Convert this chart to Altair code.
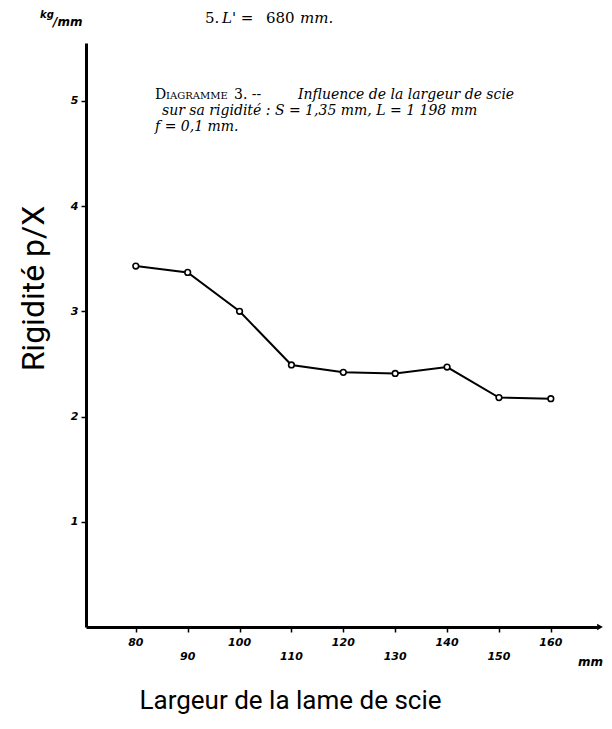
import altair as alt
import pandas as pd

# ---- data ----
largeur = [80, 90, 100, 110, 120, 130, 140, 150, 160]
rigidite = [3.43, 3.37, 3.00, 2.49, 2.42, 2.41, 2.47, 2.18, 2.17]
y_ticks = [1, 2, 3, 4, 5]
x_labels_high = [80, 100, 120, 140, 160]
x_labels_low = [90, 110, 130, 150]

W, H = 511, 584
xs = alt.Scale(domain=[70.4, 168.9], nice=False, zero=False)
ys = alt.Scale(domain=[0, 5.55], nice=False, zero=False)

df = pd.DataFrame({"largeur": largeur, "rigidite": rigidite})

x_axis = alt.Axis(values=largeur, labels=False, tickSize=5, tickWidth=1.5, tickColor="black",
                  domainColor="black", domainWidth=3, grid=False,
                  title="Largeur  de la lame de scie", titleFont="Roboto", titleFontSize=26,
                  titleFontWeight="normal", titleColor="black", titleX=204, titleY=73,
                  titleAlign="center", titleBaseline="middle")
y_axis = alt.Axis(values=y_ticks, format="d", labelFont="DejaVu Sans", labelFontSize=11,
                  labelFontWeight="bold", labelFontStyle="italic", labelColor="black",
                  labelPadding=3, tickSize=5, tickWidth=1.5, tickColor="black",
                  domainColor="black", domainWidth=3, grid=False,
                  title="Rigidité p/X", titleFont="Roboto", titleFontSize=32,
                  titleFontWeight="normal", titleColor="black", titleX=-53, titleY=245,
                  titleAngle=270, titleAlign="center", titleBaseline="middle")

base = alt.Chart(df)
line = base.mark_line(color="black", strokeWidth=2).encode(
    x=alt.X("largeur:Q", scale=xs, axis=x_axis),
    y=alt.Y("rigidite:Q", scale=ys, axis=y_axis),
)
points = base.mark_point(shape="circle", size=32, fill="white", fillOpacity=1,
                         stroke="black", strokeWidth=1.6, opacity=1).encode(
    x=alt.X("largeur:Q", scale=xs),
    y=alt.Y("rigidite:Q", scale=ys),
)

def xlabels(vals, ypix):
    return alt.Chart(pd.DataFrame({"largeur": vals})).mark_text(
        font="DejaVu Sans", fontSize=11, fontWeight="bold", fontStyle="italic",
        color="black", baseline="middle", align="center"
    ).encode(x=alt.X("largeur:Q", scale=xs), y=alt.value(ypix), text=alt.Text("largeur:Q", format="d"))

lab_hi = xlabels(x_labels_high, H + 16)
lab_lo = xlabels(x_labels_low, H + 30)

arrow = alt.Chart(pd.DataFrame({"a": [0]})).mark_point(
    shape="triangle-right", filled=True, color="black", size=45, opacity=1
).encode(x=alt.value(W + 3), y=alt.value(H))

SERIF = "DejaVu Serif"

def txt(s, px, py, size=14, font=SERIF, style="normal", weight="normal"):
    return alt.Chart(pd.DataFrame({"t": [s]})).mark_text(
        align="left", baseline="middle", font=font, fontSize=size, fontStyle=style,
        fontWeight=weight, color="black"
    ).encode(text="t:N", x=alt.value(px - 86), y=alt.value(py - 43))

texts = [
    txt("5.", 205, 18, 15),
    txt("L' =", 222, 18, 15, style="italic"),
    txt("680", 266, 18, 15),
    txt("mm.", 300, 18, 15, style="italic"),
    txt("kg", 40, 15, 10, font="DejaVu Sans", style="italic", weight="bold"),
    txt("/mm", 53, 22, 12, font="DejaVu Sans", style="italic", weight="bold"),
    txt("D", 155, 95, 14),
    txt("IAGRAMME", 166, 96, 10),
    txt("3.  --", 234, 95, 14),
    txt("Influence de la largeur de scie", 298, 95, 14, style="italic"),
    txt("sur sa rigidité : S  =  1,35 mm, L = 1 198 mm", 162, 111, 14, style="italic"),
    txt("f = 0,1 mm.", 155, 127, 14, style="italic"),
    txt("mm", 578, 662, 12, font="DejaVu Sans", style="italic", weight="bold"),
]

chart = alt.layer(line, points, lab_hi, lab_lo, arrow, *texts).properties(
    width=W, height=H,
    padding={"left": 78, "top": 35, "right": 7, "bottom": 94},
    autosize=alt.AutoSizeParams(type="none"),
    background="white",
).configure_view(stroke=None)

chart.save("out.html", embed_options={"renderer": "svg", "actions": False})
